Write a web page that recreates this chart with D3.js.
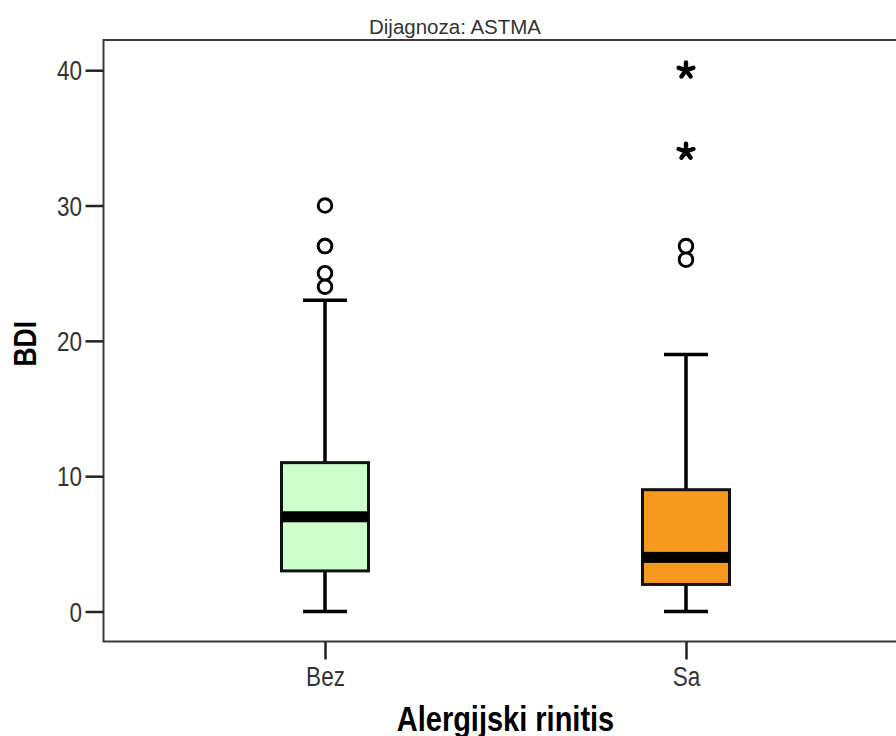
<!DOCTYPE html>
<html>
<head>
<meta charset="utf-8">
<script src="https://cdn.jsdelivr.net/npm/d3@7"></script>
<style>
  html, body { margin: 0; padding: 0; background: #fff; }
  svg { display: block; font-family: Arial, "Liberation Sans", sans-serif; }
</style>
</head>
<body>
<svg id="chart" width="896" height="736"></svg>
<script>
// BDI scores by allergic rhinitis group (diagnosis: asthma)
const categories = ["Bez", "Sa"];
const whiskerLow = [0, 0];
const q1 = [3, 2];
const median = [7, 4];
const q3 = [11, 9];
const whiskerHigh = [23, 19];
const outliers = [[24, 25, 27, 27, 30], [26, 27]];
const extremes = [[], [34, 40]];
const fills = ["#ccffcc", "#f7981f"];
const yTicks = [0, 10, 20, 30, 40];

const title = "Dijagnoza: ASTMA";
const xTitle = "Alergijski rinitis";
const yTitle = "BDI";

const svg = d3.select("#chart");

// plot frame (right side runs past the viewport)
const frame = { left: 103.5, right: 907.5, top: 40, bottom: 641.5 };

const y = d3.scaleLinear().domain([0, 40]).range([611.5, 70.2]);
const x = d3.scalePoint().domain(categories)
  .range([frame.left, frame.right]).padding(0.6136);

const boxW = 87, capW = 44;
const stretch = 1.2; // glyphs are drawn vertically stretched

// frame
svg.append("rect")
  .attr("x", frame.left).attr("y", frame.top)
  .attr("width", frame.right - frame.left).attr("height", frame.bottom - frame.top)
  .attr("fill", "none").attr("stroke", "#3a3a3a").attr("stroke-width", 2);

// y axis
const tickFont = 22.5;
const yAxis = d3.axisLeft(y).tickValues(yTicks).tickSize(18).tickPadding(4);
const gy = svg.append("g").attr("transform", `translate(${frame.left},0)`).call(yAxis);
gy.select(".domain").remove();
gy.selectAll(".tick line").attr("stroke", "#222").attr("stroke-width", 2.5);
gy.selectAll(".tick text")
  .attr("fill", "#333").attr("font-size", tickFont).attr("font-family", "Arial, 'Liberation Sans', sans-serif")
  .attr("x", null).attr("dy", null).attr("y", null)
  .attr("transform", `translate(-21.5,${0.716 * tickFont * stretch / 2}) scale(1,${stretch})`);

// x axis
const xAxis = d3.axisBottom(x).tickSize(18).tickPadding(8);
const gx = svg.append("g").attr("transform", `translate(0,${frame.bottom})`).call(xAxis);
gx.select(".domain").remove();
gx.selectAll(".tick line").attr("stroke", "#222").attr("stroke-width", 2.5);
gx.selectAll(".tick text")
  .attr("fill", "#333").attr("font-size", tickFont).attr("font-family", "Arial, 'Liberation Sans', sans-serif")
  .attr("y", null).attr("dy", null)
  .attr("transform", `translate(0,44.8) scale(1,${stretch})`);

// boxes
const groups = svg.append("g").selectAll("g")
  .data(categories.map((c, i) => ({
    c, lo: whiskerLow[i], q1: q1[i], med: median[i], q3: q3[i], hi: whiskerHigh[i],
    out: outliers[i], ext: extremes[i], fill: fills[i]
  })))
  .join("g")
  .attr("transform", d => `translate(${x(d.c)},0)`);

// whiskers
groups.append("line")
  .attr("x1", 0).attr("x2", 0)
  .attr("y1", d => y(d.hi)).attr("y2", d => y(d.q3))
  .attr("stroke", "#000").attr("stroke-width", 3.5);
groups.append("line")
  .attr("x1", 0).attr("x2", 0)
  .attr("y1", d => y(d.q1)).attr("y2", d => y(d.lo))
  .attr("stroke", "#000").attr("stroke-width", 3.5);
groups.selectAll("line.cap")
  .data(d => [d.lo, d.hi])
  .join("line").attr("class", "cap")
  .attr("x1", -capW / 2).attr("x2", capW / 2)
  .attr("y1", v => y(v)).attr("y2", v => y(v))
  .attr("stroke", "#000").attr("stroke-width", 3.5);

// box body
groups.append("rect")
  .attr("x", -boxW / 2).attr("width", boxW)
  .attr("y", d => y(d.q3)).attr("height", d => y(d.q1) - y(d.q3))
  .attr("fill", d => d.fill).attr("stroke", "#111").attr("stroke-width", 3);

// median bar
const medH = 11;
groups.append("rect")
  .attr("x", -boxW / 2).attr("width", boxW)
  .attr("y", d => y(d.med) - medH / 2).attr("height", medH)
  .attr("fill", "#000");

// outliers (circles)
groups.selectAll("circle.out")
  .data(d => d.out)
  .join("circle").attr("class", "out")
  .attr("cx", 0).attr("cy", v => y(v)).attr("r", 6.8)
  .attr("fill", "#fff").attr("stroke", "#000").attr("stroke-width", 2.9);

// extremes (asterisks)
const armR = 7.8;
const star = d3.range(5).map(k => {
  const a = -Math.PI / 2 + k * 2 * Math.PI / 5;
  return `M0,0L${(armR * Math.cos(a)).toFixed(2)},${(armR * Math.sin(a)).toFixed(2)}`;
}).join("");
groups.selectAll("path.ext")
  .data(d => d.ext)
  .join("path").attr("class", "ext")
  .attr("d", star)
  .attr("transform", v => `translate(0,${y(v)})`)
  .attr("fill", "none").attr("stroke", "#000").attr("stroke-width", 4.4)
  .attr("stroke-linecap", "round");

// titles
const midX = (frame.left + frame.right) / 2;
svg.append("text")
  .attr("x", 455).attr("y", 34)
  .attr("text-anchor", "middle")
  .attr("font-size", 20.5).attr("fill", "#333")
  .text(title);

svg.append("text")
  .attr("transform", `translate(${midX},731) scale(1,${stretch})`)
  .attr("text-anchor", "middle")
  .attr("font-size", 29).attr("font-weight", "bold").attr("fill", "#000")
  .text(xTitle);

svg.append("text")
  .attr("transform", `translate(36,${(frame.top + frame.bottom) / 2 + 3}) rotate(-90) scale(1,${stretch})`)
  .attr("text-anchor", "middle")
  .attr("font-size", 26.5).attr("font-weight", "bold").attr("fill", "#000")
  .text(yTitle);
</script>
</body>
</html>
